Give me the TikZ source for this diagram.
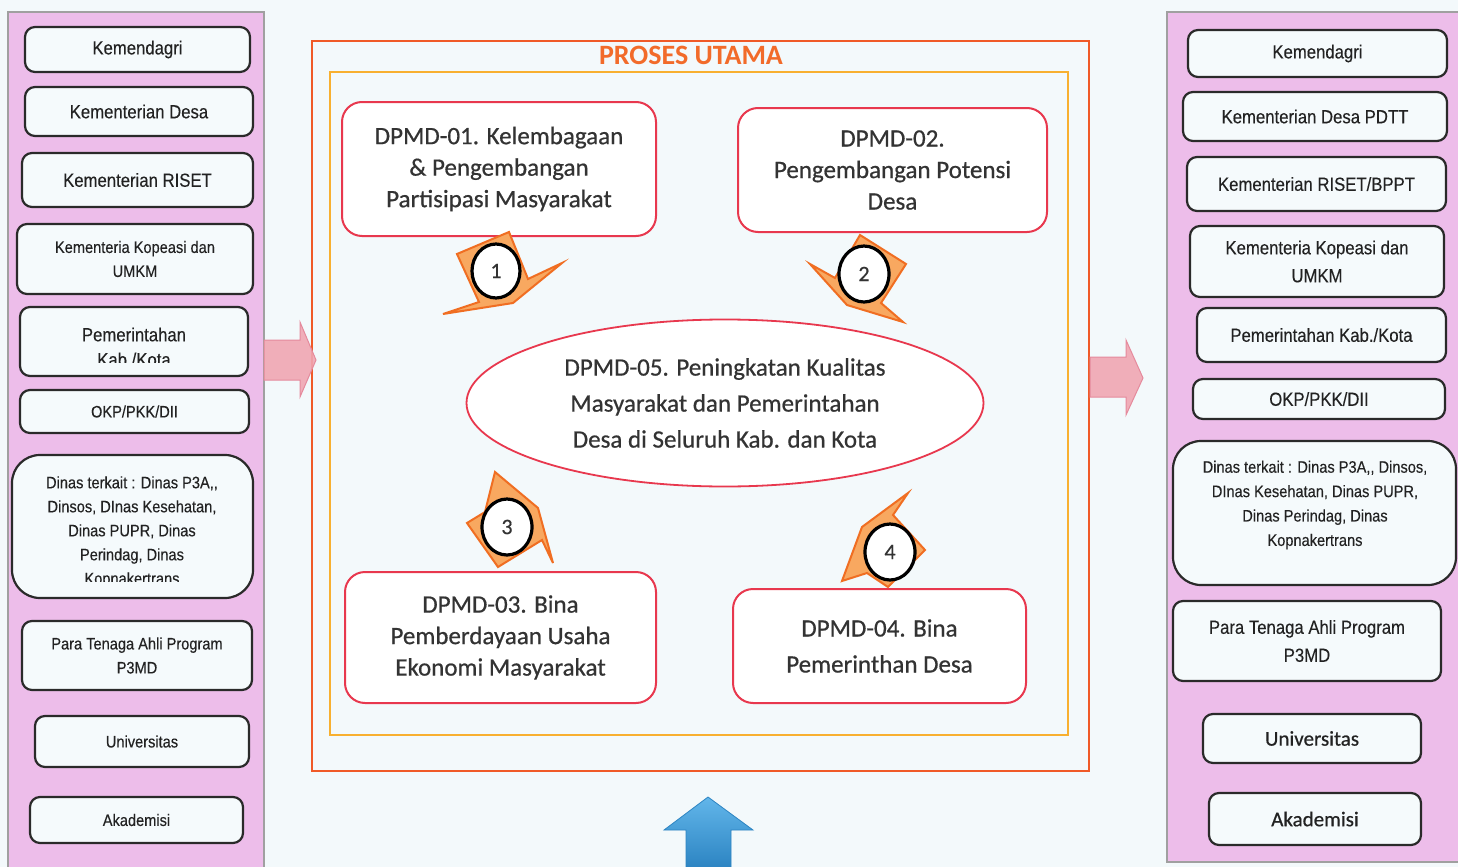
\documentclass[tikz,border=0pt]{standalone}
\usepackage{fontspec}
\setmainfont{Carlito}
\newfontfamily\narrowfont[FakeStretch=0.88,FakeBold=0.25]{Liberation Sans}
\newfontfamily\mainbold[FakeBold=0.6]{Carlito}
\usetikzlibrary{shapes.geometric}

\definecolor{bgcol}{HTML}{F3F9FB}
\definecolor{panelpink}{HTML}{EDBDEA}
\definecolor{panelline}{HTML}{A0A0A0}
\definecolor{boxfill}{HTML}{F5FAFC}
\definecolor{boxline}{HTML}{2A2A2A}
\definecolor{sidetext}{HTML}{222222}
\definecolor{outerline}{HTML}{F05A28}
\definecolor{innerline}{HTML}{F8B030}
\definecolor{dred}{HTML}{E8384E}
\definecolor{dtext}{HTML}{333333}
\definecolor{titlecol}{HTML}{F26B2A}
\definecolor{burstfill}{HTML}{F8A860}
\definecolor{burstline}{HTML}{F06E22}
\definecolor{pinkarrow}{HTML}{F0A6B2}
\definecolor{pinkline}{HTML}{E58A9C}
\definecolor{bluetop}{HTML}{62B6EA}
\definecolor{bluebot}{HTML}{2C84C2}

% box with corners (x1,y1)-(x2,y2) in pixel units
\newcommand\boxat[7]{%
  \node[#1, minimum width={(#5-#3)*0.5pt}, minimum height={(#6-#4)*0.5pt}]
    (#2) at ({(#3+#5)/2},{(#4+#6)/2}) {#7};}

\begin{document}
\begin{tikzpicture}[x=0.5pt,y=-0.5pt,
  sidebox/.style={draw=boxline, line width=1.1pt, fill=boxfill,
    rounded corners=5pt, inner sep=0pt, align=center, text=sidetext,
    font=\narrowfont\fontsize{9.5}{12.5}\selectfont},
  small/.style={font=\narrowfont\fontsize{8.3}{12}\selectfont},
  lead14/.style={font=\narrowfont\fontsize{9.5}{14}\selectfont},
  calib/.style={font=\mainbold\fontsize{10.5}{13}\selectfont},
  sidetxt/.style={inner sep=0pt, align=center, text=sidetext},
  dbox/.style={draw=dred, line width=1pt, fill=white, rounded corners=10pt,
    inner sep=0pt, align=center, text=dtext,
    font=\mainbold\fontsize{12.5}{15.75}\selectfont},
  lead18/.style={font=\mainbold\fontsize{12.5}{18}\selectfont},
  dell/.style={ellipse, draw=dred, line width=0.9pt, fill=white, inner sep=0pt,
    align=center, text=dtext, font=\mainbold\fontsize{12.5}{18}\selectfont},
  burst/.style={fill=burstfill, draw=burstline, line width=1pt, line join=miter},
  numcirc/.style={ellipse, draw=black, line width=1.6pt, fill=white,
    inner sep=0pt, minimum width=25pt, minimum height=28pt,
    text=dtext, font=\mainbold\fontsize{11}{13}\selectfont},
  pinkblock/.style={fill=pinkarrow, fill opacity=0.9, draw=pinkline, line width=0.5pt},
  title/.style={text=titlecol, font=\bfseries\fontsize{14}{16}\selectfont, inner sep=0pt}
]
\useasboundingbox (0,0) rectangle (1458,867);
\fill[bgcol] (0,0) rectangle (1458,867);

% side panels
\fill[panelpink] (8,12) rectangle (264,867);
\draw[panelline, line width=0.6pt] (8,867) -- (8,12) -- (264,12) -- (264,867);
\fill[panelpink] (1167,12) rectangle (1458,862);
\draw[panelline, line width=0.6pt] (1460,12) -- (1167,12) -- (1167,862) -- (1460,862);

% left column
\boxat{sidebox}{L1}{25}{27}{250}{72}{Kemendagri}
\boxat{sidebox}{L2}{25}{87}{253}{136}{Kementerian Desa}
\boxat{sidebox}{L3}{22}{153}{253}{207}{Kementerian RISET}
\boxat{sidebox,small}{L4}{17}{224}{253}{294}{Kementeria Kopeasi dan\\UMKM}
\boxat{sidebox}{L5}{20}{307}{248}{376}{}
\begin{scope}
  \clip (20,307) rectangle (248,362);
  \node[sidetxt, font=\narrowfont\fontsize{9.5}{12.5}\selectfont] (L5t) at (134,347) {Pemerintahan\\Kab./Kota};
\end{scope}
\boxat{sidebox,small}{L6}{20}{390}{249}{433}{OKP/PKK/DII}
\boxat{sidebox,small,rounded corners=14pt}{L7}{12}{455}{253}{598}{}
\begin{scope}
  \clip (12,455) rectangle (253,581);
  \node[sidetxt, font=\narrowfont\fontsize{8.3}{12}\selectfont] (L7t) at (132,532)
    {Dinas terkait : Dinas P3A,,\\Dinsos, DInas Kesehatan,\\Dinas PUPR, Dinas\\Perindag, Dinas\\Kopnakertrans};
\end{scope}
\boxat{sidebox,small}{L8}{22}{621}{252}{690}{Para Tenaga Ahli Program\\P3MD}
\boxat{sidebox,small}{L9}{35}{716}{249}{767}{Universitas}
\boxat{sidebox,small}{L10}{30}{797}{243}{843}{Akademisi}

% right column
\boxat{sidebox}{R1}{1188}{30}{1447}{77}{Kemendagri}
\boxat{sidebox}{R2}{1183}{92}{1447}{141}{Kementerian Desa PDTT}
\boxat{sidebox}{R3}{1187}{157}{1446}{211}{Kementerian RISET/BPPT}
\boxat{sidebox,lead14}{R4}{1190}{226}{1444}{297}{Kementeria Kopeasi dan\\UMKM}
\boxat{sidebox}{R5}{1197}{308}{1446}{362}{Pemerintahan Kab./Kota}
\boxat{sidebox}{R6}{1193}{379}{1445}{419}{OKP/PKK/DII}
\boxat{sidebox,small,rounded corners=14pt}{R7}{1173}{441}{1456}{585}{}
\node[sidetxt, font=\narrowfont\fontsize{8.3}{12.2}\selectfont] (R7t) at (1315,505)
  {Dinas terkait : Dinas P3A,, Dinsos,\\DInas Kesehatan, Dinas PUPR,\\Dinas Perindag, Dinas\\Kopnakertrans};
\boxat{sidebox,lead14}{R8}{1173}{601}{1441}{681}{Para Tenaga Ahli Program\\P3MD}
\boxat{sidebox,calib}{R9}{1203}{714}{1421}{763}{Universitas}
\boxat{sidebox,calib}{R10}{1209}{793}{1421}{845}{Akademisi}

% main process frame
\draw[outerline, line width=1.1pt] (312,41) rectangle (1089,771);
\draw[innerline, line width=1.3pt] (330,72) rectangle (1068,735);
\node[title] (title) at (691,55) {PROSES UTAMA};

% block arrows into and out of the frame
\path[pinkblock] (264,340) -- (300,340) -- (300,322) -- (316,360) -- (300,397) -- (300,380) -- (264,380) -- cycle;
\path[pinkblock] (1090,357) -- (1126,357) -- (1126,340) -- (1143,378) -- (1126,415) -- (1126,397) -- (1090,397) -- cycle;
\shade[top color=bluetop, bottom color=bluebot, draw=bluebot, line width=0.4pt]
  (686,868) -- (686,830) -- (664,830) -- (708,797) -- (753,830) -- (731,830) -- (731,868) -- cycle;

% process boxes
\boxat{dbox}{D1}{342}{102}{656}{236}{DPMD-01. Kelembagaan\\\& Pengembangan\\Partisipasi Masyarakat}
\boxat{dbox}{D2}{738}{108}{1047}{232}{DPMD-02.\\Pengembangan Potensi\\Desa}
\boxat{dbox}{D3}{345}{572}{656}{703}{DPMD-03. Bina\\Pemberdayaan Usaha\\Ekonomi Masyarakat}
\boxat{dbox,lead18}{D4}{733}{589}{1026}{703}{DPMD-04. Bina\\Pemerinthan Desa}
\node[dell, minimum width=258.5pt, minimum height=83.5pt] (D5) at (725,403)
  {DPMD-05. Peningkatan Kualitas\\Masyarakat dan Pemerintahan\\Desa di Seluruh Kab. dan Kota};

% numbered turning arrows
\path[burst] (509,232) -- (457,254) -- (479,302) -- (443,314) -- (513,303) -- (562,263) -- (528,279) -- cycle;
\path[burst] (860,235) -- (906,264) -- (881,303) -- (903,322) -- (847,305) -- (810,264) -- (835,278) -- cycle;
\path[burst] (495,472) -- (538,508) -- (553,563) -- (542,540) -- (498,567) -- (467,523) -- (485,512) -- cycle;
\path[burst] (908,493) -- (893,515) -- (925,550) -- (888,587) -- (867,573) -- (842,581) -- (862,527) -- cycle;

\node[numcirc, minimum width=24pt, minimum height=27pt] (n1) at (496,271) {1};
\node[numcirc] (n2) at (864,274) {2};
\node[numcirc] (n3) at (507,527) {3};
\node[numcirc] (n4) at (890,552) {4};
\end{tikzpicture}
\end{document}
